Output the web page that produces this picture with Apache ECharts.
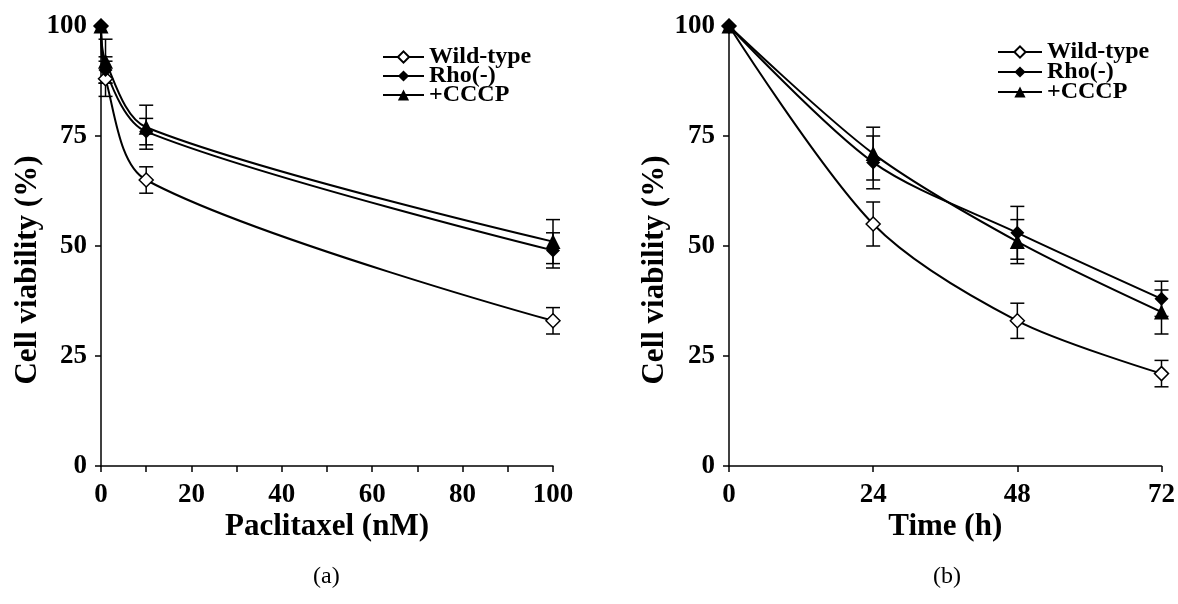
<!DOCTYPE html>
<html>
<head>
<meta charset="utf-8">
<script src="https://cdn.jsdelivr.net/npm/echarts@6/dist/echarts.min.js"></script>
<style>
html,body{margin:0;padding:0;background:#fff;}
#main{width:1178px;height:604px;}
</style>
</head>
<body>
<div id="main"></div>
<script>
// Panel (a): Paclitaxel dose (nM)
var doseX = [0, 1, 10, 100];
var doseWild = [100, 88, 65, 33];
var doseWildErr = [0, 4, 3, 3];
var doseRho = [100, 90, 76, 49];
var doseRhoErr = [0, 3, 3, 4];
var doseCccp = [100, 92, 77, 51];
var doseCccpErr = [0, 5, 5, 5];

// Panel (b): Time (h)
var timeX = [0, 24, 48, 72];
var timeWild = [100, 55, 33, 21];
var timeWildErr = [0, 5, 4, 3];
var timeRho = [100, 69, 53, 38];
var timeRhoErr = [0, 6, 6, 4];
var timeCccp = [100, 71, 51, 35];
var timeCccpErr = [0, 6, 5, 5];

var yTicks = [0, 25, 50, 75, 100];
var seriesNames = ['Wild-type', 'Rho(-)', '+CCCP'];
var yTitle = 'Cell viability (%)';

var FONT = "'Liberation Serif', 'Times New Roman', serif";

function pairs(xs, ys) { return xs.map(function (x, i) { return [x, ys[i]]; }); }
function errs(xs, ys, es) {
  var out = [];
  xs.forEach(function (x, i) { if (es[i] > 0) out.push([x, ys[i] - es[i], ys[i] + es[i]]); });
  return out;
}

function errRender(params, api) {
  var x = api.value(0);
  var lo = api.coord([x, api.value(1)]);
  var hi = api.coord([x, api.value(2)]);
  var hw = 7;
  var st = { stroke: '#000', lineWidth: 1.5 };
  return {
    type: 'group',
    children: [
      { type: 'line', shape: { x1: lo[0], y1: lo[1], x2: hi[0], y2: hi[1] }, style: st },
      { type: 'line', shape: { x1: lo[0] - hw, y1: lo[1], x2: lo[0] + hw, y2: lo[1] }, style: st },
      { type: 'line', shape: { x1: hi[0] - hw, y1: hi[1], x2: hi[0] + hw, y2: hi[1] }, style: st }
    ]
  };
}

var symbols = [
  { symbol: 'diamond', color: '#fff' },
  { symbol: 'diamond', color: '#000' },
  { symbol: 'triangle', color: '#000' }
];

function lineSeries(idx, name, xs, ys, k) {
  return {
    type: 'line', name: name, xAxisIndex: idx, yAxisIndex: idx,
    data: pairs(xs, ys), smooth: 0.3,
    symbol: symbols[k].symbol, symbolSize: k === 2 ? 15 : 14,
    lineStyle: { color: '#000', width: 2 },
    itemStyle: { color: symbols[k].color, borderColor: '#000', borderWidth: k === 0 ? 1.5 : 0 },
    z: 3
  };
}
function errSeries(idx, xs, ys, es) {
  return {
    type: 'custom', xAxisIndex: idx, yAxisIndex: idx,
    renderItem: errRender, data: errs(xs, ys, es), z: 2, silent: true
  };
}

var axisLabelStyle = { color: '#000', fontFamily: FONT, fontWeight: 'bold', fontSize: 27 };
var axisNameStyle = { color: '#000', fontFamily: FONT, fontWeight: 'bold', fontSize: 31 };
var legendText = { color: '#000', fontFamily: FONT, fontWeight: 'bold', fontSize: 24 };

function yAxis(idx) {
  return {
    type: 'value', gridIndex: idx, min: yTicks[0], max: yTicks[yTicks.length - 1], interval: 25,
    axisLine: { show: true, lineStyle: { color: '#000', width: 1.5 } },
    axisTick: { show: true, length: 6, lineStyle: { color: '#000', width: 1.5 } },
    axisLabel: Object.assign({ margin: 14 }, axisLabelStyle),
    splitLine: { show: false }
  };
}

function yTitleText(x) {
  return {
    type: 'text', x: x, y: 270, rotation: Math.PI / 2,
    style: { text: yTitle, fill: '#000', font: 'bold 31px ' + FONT, textAlign: 'center', textVerticalAlign: 'middle' }
  };
}

var option = {
  animation: false,
  backgroundColor: '#fff',
  grid: [
    { left: 101, top: 26, width: 452, height: 440 },
    { left: 729, top: 26, width: 437, height: 440 }
  ],
  xAxis: [
    {
      type: 'value', gridIndex: 0, min: 0, max: 100, interval: 10,
      name: 'Paclitaxel (nM)', nameLocation: 'middle', nameGap: 45, nameMoveOverlap: false, nameTextStyle: axisNameStyle,
      axisLine: { lineStyle: { color: '#000', width: 1.5 } },
      axisTick: { length: 6, lineStyle: { color: '#000', width: 1.5 } },
      axisLabel: Object.assign({ margin: 16, formatter: function (v) { return v % 20 === 0 ? String(v) : ''; } }, axisLabelStyle),
      splitLine: { show: false }
    },
    {
      type: 'value', gridIndex: 1, min: 0, max: 72, interval: 24,
      name: 'Time (h)', nameLocation: 'middle', nameGap: 45, nameMoveOverlap: false, nameTextStyle: axisNameStyle,
      axisLine: { lineStyle: { color: '#000', width: 1.5 } },
      axisTick: { length: 6, lineStyle: { color: '#000', width: 1.5 } },
      axisLabel: Object.assign({ margin: 16 }, axisLabelStyle),
      splitLine: { show: false }
    }
  ],
  yAxis: [yAxis(0), yAxis(1)],
  legend: [
    {
      left: 377, top: 40, orient: 'vertical', itemGap: -5, itemWidth: 41, itemHeight: 14,
      data: seriesNames, textStyle: legendText
    },
    {
      left: 992, top: 35, orient: 'vertical', itemGap: -4, itemWidth: 44, itemHeight: 14,
      data: seriesNames, textStyle: legendText
    }
  ],
  graphic: [
    yTitleText(28),
    yTitleText(655),
    { type: 'text', left: 313, top: 565, style: { text: '(a)', fill: '#000', font: '24px ' + FONT } },
    { type: 'text', left: 933, top: 565, style: { text: '(b)', fill: '#000', font: '24px ' + FONT } }
  ],
  series: [
    errSeries(0, doseX, doseWild, doseWildErr),
    errSeries(0, doseX, doseRho, doseRhoErr),
    errSeries(0, doseX, doseCccp, doseCccpErr),
    lineSeries(0, seriesNames[0], doseX, doseWild, 0),
    lineSeries(0, seriesNames[1], doseX, doseRho, 1),
    lineSeries(0, seriesNames[2], doseX, doseCccp, 2),
    errSeries(1, timeX, timeWild, timeWildErr),
    errSeries(1, timeX, timeRho, timeRhoErr),
    errSeries(1, timeX, timeCccp, timeCccpErr),
    lineSeries(1, seriesNames[0], timeX, timeWild, 0),
    lineSeries(1, seriesNames[1], timeX, timeRho, 1),
    lineSeries(1, seriesNames[2], timeX, timeCccp, 2)
  ]
};

var chart = echarts.init(document.getElementById('main'), null, { renderer: 'canvas' });
chart.setOption(option);
</script>
</body>
</html>
